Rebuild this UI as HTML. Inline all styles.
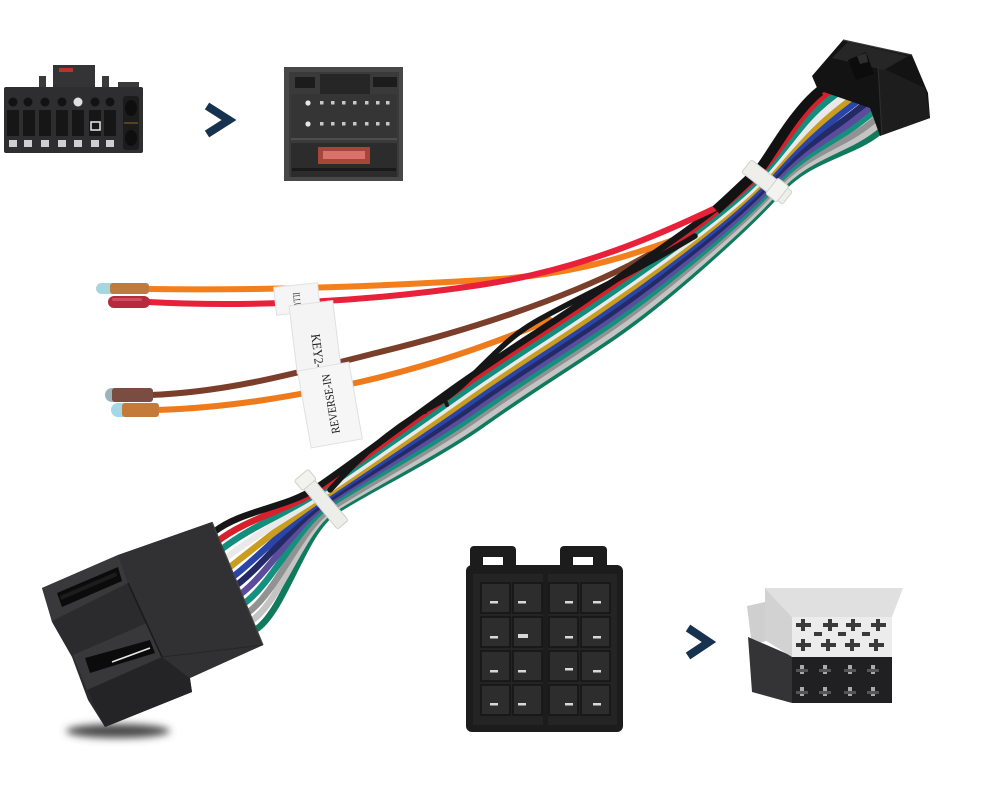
<!DOCTYPE html>
<html><head><meta charset="utf-8"><style>
html,body{margin:0;padding:0;background:#fff;}
svg{display:block;}
</style></head><body>
<svg width="985" height="790" viewBox="0 0 985 790" xmlns="http://www.w3.org/2000/svg">
<defs>
<filter id="blur" x="-50%" y="-200%" width="200%" height="500%"><feGaussianBlur stdDeviation="4"/></filter>
</defs>
<rect width="985" height="790" fill="#ffffff"/>

<!-- ========== Top-left photo connector ========== -->
<g>
  <rect x="53" y="65" width="42" height="24" fill="#343436"/>
  <rect x="59" y="68" width="14" height="4" fill="#b8342a"/>
  <rect x="39" y="76" width="7" height="13" fill="#3a3a3a"/>
  <rect x="102" y="76" width="7" height="13" fill="#3a3a3a"/>
  <rect x="118" y="82" width="21" height="7" fill="#3a3a3a"/>
  <rect x="4" y="87" width="139" height="66" rx="2" fill="#2e2e30"/>
  <g fill="#121212">
    <circle cx="13" cy="102" r="4.5"/><circle cx="28" cy="102" r="4.5"/><circle cx="45" cy="102" r="4.5"/>
    <circle cx="62" cy="102" r="4.5"/><circle cx="95" cy="102" r="4.5"/><circle cx="110" cy="102" r="4.5"/>
  </g>
  <circle cx="78" cy="102" r="4.5" fill="#e0e0e0"/>
  <g fill="#161616">
    <rect x="7" y="110" width="12" height="26"/><rect x="23" y="110" width="12" height="26"/><rect x="39" y="110" width="12" height="26"/>
    <rect x="56" y="110" width="12" height="26"/><rect x="72" y="110" width="12" height="26"/><rect x="89" y="110" width="12" height="26"/>
    <rect x="104" y="110" width="12" height="26"/>
  </g>
  <rect x="91" y="122" width="9" height="8" fill="none" stroke="#e8e8e8" stroke-width="1.5"/>
  <g fill="#cfcfcf">
    <rect x="9" y="140" width="8" height="7"/><rect x="24" y="140" width="8" height="7"/><rect x="41" y="140" width="8" height="7"/>
    <rect x="58" y="140" width="8" height="7"/><rect x="74" y="140" width="8" height="7"/><rect x="91" y="140" width="8" height="7"/>
    <rect x="106" y="140" width="8" height="7"/>
  </g>
  <rect x="123" y="96" width="16" height="54" rx="3" fill="#1c1c1c"/>
  <ellipse cx="131" cy="108" rx="6" ry="8" fill="#0e0e0e"/>
  <ellipse cx="131" cy="138" rx="6" ry="8" fill="#0e0e0e"/>
  <line x1="124" y1="123" x2="138" y2="123" stroke="#8a6a20" stroke-width="1"/>
</g>

<!-- arrow 1 -->
<polyline points="207,106 229,120 207,134" fill="none" stroke="#17324e" stroke-width="8" stroke-linejoin="miter"/>

<!-- ========== Top-right photo connector ========== -->
<g>
  <rect x="284" y="67" width="119" height="114" fill="#484848"/>
  <rect x="289" y="72" width="110" height="105" fill="#3a3a3b"/>
  <rect x="295" y="77" width="20" height="11" fill="#1c1c1c"/>
  <rect x="320" y="74" width="50" height="22" fill="#262626"/>
  <rect x="373" y="77" width="24" height="10" fill="#1c1c1c"/>
  <rect x="291" y="94" width="106" height="44" fill="#353536"/>
  <g fill="#c8c8c8">
    <circle cx="308" cy="103" r="2.6" fill="#e6e6e6"/>
    <rect x="320" y="101" width="3.5" height="3.5"/><rect x="331" y="101" width="3.5" height="3.5"/><rect x="342" y="101" width="3.5" height="3.5"/>
    <rect x="353" y="101" width="3.5" height="3.5"/><rect x="365" y="101" width="3.5" height="3.5"/><rect x="376" y="101" width="3.5" height="3.5"/>
    <rect x="386" y="101" width="3.5" height="3.5"/>
    <circle cx="308" cy="124" r="2.6" fill="#e6e6e6"/>
    <rect x="320" y="122" width="3.5" height="3.5"/><rect x="331" y="122" width="3.5" height="3.5"/><rect x="342" y="122" width="3.5" height="3.5"/>
    <rect x="353" y="122" width="3.5" height="3.5"/><rect x="365" y="122" width="3.5" height="3.5"/><rect x="376" y="122" width="3.5" height="3.5"/>
    <rect x="386" y="122" width="3.5" height="3.5"/>
  </g>
  <line x1="291" y1="139" x2="397" y2="139" stroke="#555" stroke-width="1.5"/>
  <rect x="291" y="143" width="106" height="34" fill="#2c2c2d"/>
  <rect x="318" y="147" width="52" height="17" fill="#a8453a"/>
  <rect x="323" y="151" width="42" height="8" fill="#d8726a"/>
  <rect x="292" y="168" width="104" height="3" fill="#1a1a1a"/>
</g>

<!-- ========== Branch wires (behind bundle) ========== -->
<g fill="none" stroke-linecap="round">
  <path d="M156,410 C230,408 300,395 360,382 C430,366 490,345 550,320" stroke="#ef7a1c" stroke-width="6"/>
  <path d="M150,395 C230,392 300,372 380,352 C470,330 560,300 630,265 L690,232" stroke="#7a3e2a" stroke-width="6"/>
  <path d="M148,289 C280,291 400,285 500,279 C590,272 640,252 712,226" stroke="#f27e1c" stroke-width="6"/>
</g>

<!-- ========== Main bundle ========== -->
<g fill="none" stroke-linecap="round" stroke-width="6.5">
  <path d="M240,638 L258,628 C286,606 304,532 334,512 S438,456 483,424 S563,371 613,337 S746,229 778,193 S850,155 878,133 L896,119" stroke="#0f7b5c"/>
  <path d="M236,629 L254,619 C282,597 302,530 332,510 S436,453 481,421 S561,368 611,334 S744,227 776,191 S845,151 873,129 L891,115" stroke="#c4c4c4"/>
  <path d="M232,621 L250,611 C278,589 301,528 331,508 S433,449 478,417 S558,364 608,330 S742,225 774,189 S840,147 868,125 L886,111" stroke="#929292"/>
  <path d="M228,612 L246,602 C274,580 299,525 329,505 S431,446 476,414 S556,361 606,327 S741,223 773,187 S834,143 862,121 L880,107" stroke="#15907f"/>
  <path d="M224,603 L242,593 C270,571 297,523 327,503 S429,442 474,410 S554,357 604,323 S739,221 771,185 S829,140 857,118 L875,104" stroke="#5b4c9c"/>
  <path d="M220,594 L238,584 C266,562 296,521 326,501 S426,439 471,407 S551,354 601,320 S737,219 769,183 S824,136 852,114 L870,100" stroke="#232a66"/>
  <path d="M216,586 L234,576 C262,554 294,519 324,499 S424,435 469,403 S549,350 599,316 S735,217 767,181 S818,132 846,110 L864,96" stroke="#2a44a8"/>
  <path d="M212,577 L230,567 C258,545 293,517 323,497 S421,432 466,400 S546,347 596,313 S733,215 765,179 S813,128 841,106 L859,92" stroke="#c99d1e"/>
  <path d="M208,568 L226,558 C254,536 291,515 321,495 S419,428 464,396 S544,343 594,309 S732,213 764,177 S808,125 836,103 L854,89" stroke="#e9e9e9"/>
  <path d="M204,559 L222,549 C250,527 289,512 319,492 S417,425 462,393 S542,340 592,306 S730,211 762,175 S802,121 830,99 L848,85" stroke="#138d7c"/>
  <path d="M200,551 L218,541 C246,519 288,510 318,490 S414,421 459,389 S539,336 589,302 S728,209 760,173 S797,117 825,95 L843,81" stroke="#d8202c"/>
  <path d="M196,542 L214,532 C242,510 286,508 316,488 S412,418 457,386 S537,333 587,299 S726,207 758,171 S792,113 820,91 L838,77" stroke="#161616"/>
  <!-- black wire arching above -->
  <path d="M330,490 C370,445 405,420 440,402 C470,385 495,345 535,322 S630,275 695,236" stroke="#161616" stroke-width="5.5"/>
  <path d="M425,412 C432,398 445,396 447,405" stroke="#161616" stroke-width="4"/>
</g>

<!-- red branch wire over bundle -->
<path d="M148,302 C260,308 380,300 480,285 C580,270 660,235 728,202" fill="none" stroke="#e8203a" stroke-width="6" stroke-linecap="round"/>
<!-- black heat-shrink tube -->
<path d="M716,210 C735,193 750,178 758,171 S792,113 820,91" fill="none" stroke="#121212" stroke-width="10" stroke-linecap="butt"/>

<!-- wire tips -->
<g>
  <rect x="96" y="283" width="22" height="11" rx="5.5" fill="#a6d6de"/>
  <rect x="110" y="283" width="39" height="11" rx="3" fill="#bf7a3c"/>
  <rect x="108" y="296" width="42" height="12" rx="6" fill="#b52a3c"/>
  <rect x="112" y="298" width="30" height="3" rx="1.5" fill="#d86070" opacity="0.7"/>
  <rect x="105" y="388" width="16" height="14" rx="7" fill="#9bb4bc"/>
  <rect x="112" y="388" width="41" height="14" rx="3" fill="#7a4c42"/>
  <rect x="111" y="403" width="20" height="14" rx="7" fill="#a2d8e8"/>
  <rect x="122" y="403" width="37" height="14" rx="3" fill="#c47a38"/>
</g>

<!-- labels -->
<g font-family="'Liberation Serif', serif" fill="#1a1a1a">
  <g transform="translate(297,299) rotate(-6)">
    <rect x="-22" y="-14" width="44" height="28" fill="#f5f5f5" stroke="#e2e2e2" stroke-width="1"/>
    <g transform="translate(-1,3) rotate(90)"><text x="0" y="0" font-size="10" text-anchor="middle" dominant-baseline="central" textLength="19" lengthAdjust="spacingAndGlyphs">ILLUT</text></g>
  </g>
  <g transform="translate(315,337) rotate(-7)">
    <rect x="-22" y="-34" width="44" height="68" fill="#f4f4f4" stroke="#e0e0e0" stroke-width="1"/>
    <g transform="translate(1,14) rotate(90)"><text x="0" y="0" font-size="13" text-anchor="middle" dominant-baseline="central" textLength="34" lengthAdjust="spacingAndGlyphs">KEY2-</text></g>
  </g>
  <g transform="translate(330,405) rotate(-10)">
    <rect x="-26" y="-39" width="52" height="78" fill="#f6f6f6" stroke="#e0e0e0" stroke-width="1"/>
    <g transform="translate(1,-1) rotate(-90)"><text x="0" y="0" font-size="12" text-anchor="middle" dominant-baseline="central" textLength="60" lengthAdjust="spacingAndGlyphs">REVERSE-IN</text></g>
  </g>
</g>

<!-- zip ties -->
<g transform="translate(323,501) rotate(50)">
  <rect x="-31" y="-7" width="62" height="14" rx="2" fill="#ededea" stroke="#cfcfca" stroke-width="1"/>
  <rect x="-34" y="-9" width="13" height="18" rx="2" fill="#f2f2ef" stroke="#d0d0cc" stroke-width="1"/>
</g>
<g transform="translate(767,182) rotate(38)">
  <rect x="-26" y="-8" width="52" height="16" rx="2" fill="#eeeeeb" stroke="#d2d2cd" stroke-width="1"/>
  <rect x="6" y="-10" width="14" height="20" rx="2" fill="#f3f3f0" stroke="#d2d2cd" stroke-width="1"/>
</g>

<!-- ========== Top harness connector ========== -->
<g>
  <polygon points="812,76 843,40 912,55 928,93 930,118 880,136 870,108 818,90" fill="#131313"/>
  <polygon points="878,66 925,88 930,118 882,135" fill="#1d1d1e"/>
  <polygon points="832,58 848,42 908,56 884,70" fill="#262627"/>
  <polygon points="848,60 866,52 874,74 856,80" fill="#0c0c0c"/>
  <polygon points="857,56 866,53 868,62 860,64" fill="#2e2e2e"/>
  <line x1="843" y1="40" x2="912" y2="55" stroke="#3a3a3a" stroke-width="1.2"/>
  <line x1="878" y1="66" x2="882" y2="135" stroke="#2c2c2c" stroke-width="1.2"/>
</g>

<!-- ========== Bottom-left harness connector ========== -->
<g>
  <ellipse cx="118" cy="731" rx="52" ry="7" fill="#4a4a4a" filter="url(#blur)"/>
  <polygon points="42,588 118,555 212,522 263,645 190,678 192,692 105,727 88,700 72,657 52,622" fill="#2b2b2d"/>
  <polygon points="118,555 212,522 263,645 190,678 162,657 128,583" fill="#313133"/>
  <polygon points="42,588 118,555 128,583 52,621" fill="#39393b"/>
  <polygon points="57,593 118,567 122,581 62,607" fill="#0b0b0b"/>
  <polygon points="60,596 116,572 117,576 61,600" fill="#1c1c1c"/>
  <polygon points="73,655 147,623 162,657 87,690" fill="#38383a"/>
  <polygon points="85,658 150,640 155,653 90,673" fill="#0b0b0b"/>
  <line x1="112" y1="662" x2="150" y2="648" stroke="#e6e6e6" stroke-width="1.6"/>
  <polygon points="87,690 162,657 190,679 192,692 105,727" fill="#242426"/>
  <line x1="212" y1="522" x2="263" y2="645" stroke="#444" stroke-width="1.2"/>
  <line x1="128" y1="583" x2="162" y2="657" stroke="#1a1a1a" stroke-width="1.5"/>
  <line x1="162" y1="657" x2="263" y2="645" stroke="#1f1f1f" stroke-width="1" opacity="0.6"/>
</g>

<!-- ========== ISO connector (bottom middle) ========== -->
<g>
  <rect x="470" y="546" width="46" height="32" rx="4" fill="#1c1c1c"/>
  <rect x="560" y="546" width="47" height="32" rx="4" fill="#1c1c1c"/>
  <rect x="483" y="557" width="20" height="18" fill="#ffffff"/>
  <rect x="573" y="557" width="20" height="18" fill="#ffffff"/>
  <rect x="466" y="565" width="157" height="167" rx="6" fill="#1c1c1c"/>
  <rect x="473" y="574" width="70" height="151" fill="#242424"/>
  <rect x="548" y="574" width="69" height="151" fill="#242424"/>
  <g fill="#2d2d2d" stroke="#141414" stroke-width="1.5">
    <rect x="481" y="583" width="29" height="30"/><rect x="513" y="583" width="29" height="30"/>
    <rect x="549" y="583" width="29" height="30"/><rect x="581" y="583" width="29" height="30"/>
    <rect x="481" y="617" width="29" height="30"/><rect x="513" y="617" width="29" height="30"/>
    <rect x="549" y="617" width="29" height="30"/><rect x="581" y="617" width="29" height="30"/>
    <rect x="481" y="651" width="29" height="30"/><rect x="513" y="651" width="29" height="30"/>
    <rect x="549" y="651" width="29" height="30"/><rect x="581" y="651" width="29" height="30"/>
    <rect x="481" y="685" width="29" height="30"/><rect x="513" y="685" width="29" height="30"/>
    <rect x="549" y="685" width="29" height="30"/><rect x="581" y="685" width="29" height="30"/>
  </g>
  <g fill="#d8d8d8">
    <rect x="490" y="601" width="8" height="2.5"/><rect x="518" y="601" width="8" height="2.5"/>
    <rect x="565" y="601" width="8" height="2.5"/><rect x="593" y="601" width="8" height="2.5"/>
    <rect x="490" y="636" width="8" height="2.5"/><rect x="518" y="634" width="10" height="4"/>
    <rect x="565" y="636" width="8" height="2.5"/><rect x="593" y="636" width="8" height="2.5"/>
    <rect x="490" y="670" width="8" height="2.5"/><rect x="518" y="670" width="8" height="2.5"/>
    <rect x="565" y="668" width="8" height="2.5"/><rect x="593" y="670" width="8" height="2.5"/>
    <rect x="490" y="703" width="8" height="2.5"/><rect x="518" y="703" width="8" height="2.5"/>
    <rect x="565" y="703" width="8" height="2.5"/><rect x="593" y="703" width="8" height="2.5"/>
  </g>
</g>

<!-- arrow 2 -->
<polyline points="688,628 709,642 688,656" fill="none" stroke="#17324e" stroke-width="8" stroke-linejoin="miter"/>

<!-- ========== 3D ISO connector (bottom right) ========== -->
<g>
  <polygon points="747,606 765,602 768,640 752,646" fill="#cfcfd0"/>
  <polygon points="748,637 792,656 792,703 752,692" fill="#343436"/>
  <rect x="792" y="656" width="100" height="47" fill="#202022"/>
  <polygon points="765,588 792,617 792,657 765,640" fill="#d2d2d3"/>
  <polygon points="765,588 903,588 892,617 792,617" fill="#e0e0e1"/>
  <rect x="792" y="617" width="100" height="40" fill="#ececec"/>
  <g fill="#3a3a3a">
    <rect x="796" y="623" width="15" height="4"/><rect x="801" y="619" width="4" height="12"/>
    <rect x="823" y="623" width="15" height="4"/><rect x="828" y="619" width="4" height="12"/>
    <rect x="846" y="623" width="15" height="4"/><rect x="851" y="619" width="4" height="12"/>
    <rect x="871" y="623" width="15" height="4"/><rect x="876" y="619" width="4" height="12"/>
    <rect x="796" y="643" width="15" height="4"/><rect x="801" y="639" width="4" height="12"/>
    <rect x="821" y="643" width="15" height="4"/><rect x="826" y="639" width="4" height="12"/>
    <rect x="845" y="643" width="15" height="4"/><rect x="850" y="639" width="4" height="12"/>
    <rect x="869" y="643" width="15" height="4"/><rect x="874" y="639" width="4" height="12"/>
    <rect x="814" y="632" width="8" height="4"/><rect x="838" y="632" width="8" height="4"/><rect x="862" y="632" width="8" height="4"/>
  </g>
  <g fill="#aaaaaa">
    <rect x="800" y="665" width="4" height="9"/><rect x="823" y="665" width="4" height="9"/>
    <rect x="848" y="665" width="4" height="9"/><rect x="871" y="665" width="4" height="9"/>
    <rect x="800" y="687" width="4" height="9"/><rect x="823" y="687" width="4" height="9"/>
    <rect x="848" y="687" width="4" height="9"/><rect x="871" y="687" width="4" height="9"/>
  </g>
  <g fill="#555">
    <rect x="796" y="669" width="12" height="3"/><rect x="819" y="669" width="12" height="3"/>
    <rect x="844" y="669" width="12" height="3"/><rect x="867" y="669" width="12" height="3"/>
    <rect x="796" y="691" width="12" height="3"/><rect x="819" y="691" width="12" height="3"/>
    <rect x="844" y="691" width="12" height="3"/><rect x="867" y="691" width="12" height="3"/>
  </g>
</g>
</svg>
</body></html>
